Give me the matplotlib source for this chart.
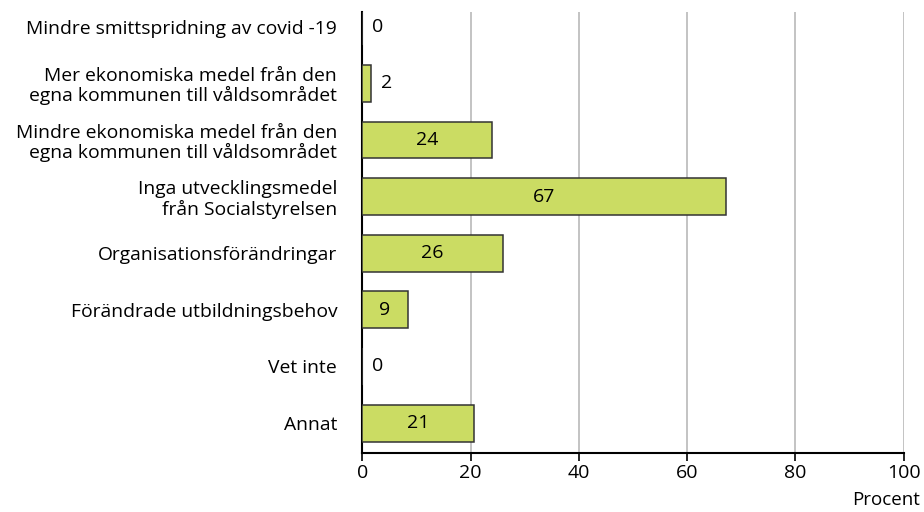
import matplotlib.pyplot as plt

plt.rcParams['font.family'] = ['Open Sans', 'DejaVu Sans']

# data
kategorier = [
    'Mindre smittspridning av covid -19',
    'Mer ekonomiska medel från den\negna kommunen till våldsområdet',
    'Mindre ekonomiska medel från den\negna kommunen till våldsområdet',
    'Inga utvecklingsmedel\nfrån Socialstyrelsen',
    'Organisationsförändringar',
    'Förändrade utbildningsbehov',
    'Vet inte',
    'Annat',
]
varden = [0, 1.6, 23.9, 67.2, 26.0, 8.4, 0, 20.6]
etiketter = ['0', '2', '24', '67', '26', '9', '0', '21']
xticks = [0, 20, 40, 60, 80, 100]

fig = plt.figure(figsize=(9.24, 5.12), dpi=100)
ax = fig.add_axes([0.392, 0.115, 0.586, 0.862])

pos = list(range(len(kategorier)))
ax.barh(pos, varden, height=0.65, color='#cbdc63', edgecolor='#333333',
        linewidth=1.1, zorder=3)

for p, v, t in zip(pos, varden, etiketter):
    if v >= 5:
        ax.text(v / 2, p, t, ha='center', va='center', fontsize=14, zorder=4)
    else:
        ax.text(v + 1.8, p, t, ha='left', va='center', fontsize=14, zorder=4)

ax.set_yticks(pos)
ax.set_yticklabels(kategorier, fontsize=13.9, linespacing=1.1)
ax.tick_params(axis='y', length=0, pad=18)
ax.set_ylim(len(kategorier) - 1 + 0.53, -0.265)

ax.set_xlim(0, 100)
ax.set_xticks(xticks)
ax.set_xticklabels([str(x) for x in xticks], fontsize=14)
ax.tick_params(axis='x', length=6, width=1.2, direction='out', pad=2)
ax.grid(axis='x', color='#b3b3b3', linewidth=1.1, zorder=0)

for s in ['top', 'right']:
    ax.spines[s].set_visible(False)
ax.spines['left'].set_linewidth(1.5)
ax.spines['bottom'].set_linewidth(1.5)

fig.text(0.996, 0.006, 'Procent', ha='right', va='bottom', fontsize=13.5)

fig.savefig('out.png', dpi=100)
